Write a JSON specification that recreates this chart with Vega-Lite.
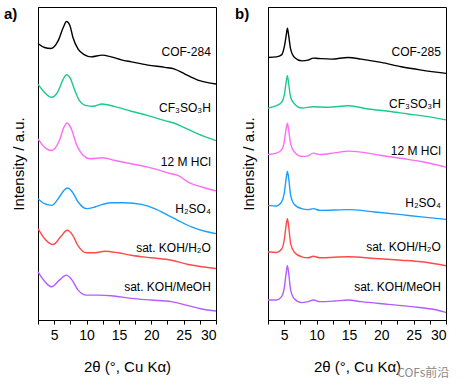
{
  "$schema": "https://vega.github.io/schema/vega-lite/v6.json",
  "background": "white",
  "padding": {"left": 3, "top": 6, "right": 5, "bottom": 3},
  "spacing": 14,
  "config": {
    "font": "Liberation Sans",
    "view": {"stroke": "black", "strokeWidth": 1},
    "axis": {"grid": false, "labelFontSize": 14, "titleFontSize": 15, "titleFontWeight": "normal", "labelColor": "black", "titleColor": "black", "domainColor": "black", "tickColor": "black"}
  },
  "title": {"text": "COFs前沿", "orient": "bottom", "anchor": "end", "font": "Noto Sans CJK SC", "fontSize": 12, "color": "#8a8a8a", "fontWeight": "normal", "offset": -7},
  "datasets": {
    "a_curves": [
      {"series": "pristine", "x": 2.5, "y": 277.4}, {"series": "pristine", "x": 3.5, "y": 273.4}, {"series": "pristine", "x": 4.5, "y": 272.4}, {"series": "pristine", "x": 5.6, "y": 280}, {"series": "pristine", "x": 6.4, "y": 293.4}, {"series": "pristine", "x": 6.9, "y": 299.4}, {"series": "pristine", "x": 7.4, "y": 296}, {"series": "pristine", "x": 7.9, "y": 283.4}, {"series": "pristine", "x": 8.7, "y": 271.7}, {"series": "pristine", "x": 9.7, "y": 266}, {"series": "pristine", "x": 10.7, "y": 264}, {"series": "pristine", "x": 12.4, "y": 265.7}, {"series": "pristine", "x": 13.8, "y": 264}, {"series": "pristine", "x": 15.4, "y": 261}, {"series": "pristine", "x": 16.9, "y": 259}, {"series": "pristine", "x": 19.5, "y": 255.7}, {"series": "pristine", "x": 22.1, "y": 253.4}, {"series": "pristine", "x": 23.6, "y": 251.7}, {"series": "pristine", "x": 25.2, "y": 246.7}, {"series": "pristine", "x": 27.2, "y": 240.7}, {"series": "pristine", "x": 30, "y": 236.7},
      {"series": "CF3SO3H", "x": 2.5, "y": 236.7}, {"series": "CF3SO3H", "x": 3.5, "y": 228.4}, {"series": "CF3SO3H", "x": 4.6, "y": 223.4}, {"series": "CF3SO3H", "x": 5.6, "y": 229.4}, {"series": "CF3SO3H", "x": 6.4, "y": 241.7}, {"series": "CF3SO3H", "x": 6.9, "y": 246}, {"series": "CF3SO3H", "x": 7.55, "y": 241.7}, {"series": "CF3SO3H", "x": 8.2, "y": 230}, {"series": "CF3SO3H", "x": 8.9, "y": 220}, {"series": "CF3SO3H", "x": 10, "y": 215}, {"series": "CF3SO3H", "x": 11, "y": 214.4}, {"series": "CF3SO3H", "x": 12.4, "y": 216.7}, {"series": "CF3SO3H", "x": 14.4, "y": 214}, {"series": "CF3SO3H", "x": 16.9, "y": 209.4}, {"series": "CF3SO3H", "x": 19.5, "y": 205}, {"series": "CF3SO3H", "x": 22.1, "y": 200}, {"series": "CF3SO3H", "x": 23.6, "y": 197.4}, {"series": "CF3SO3H", "x": 25.2, "y": 192.7}, {"series": "CF3SO3H", "x": 27.2, "y": 186.7}, {"series": "CF3SO3H", "x": 30, "y": 180},
      {"series": "HCl", "x": 2.5, "y": 181.7}, {"series": "HCl", "x": 3.5, "y": 173.4}, {"series": "HCl", "x": 4.6, "y": 170}, {"series": "HCl", "x": 5.8, "y": 180}, {"series": "HCl", "x": 6.5, "y": 193.4}, {"series": "HCl", "x": 7.0, "y": 197.7}, {"series": "HCl", "x": 7.65, "y": 191.7}, {"series": "HCl", "x": 8.4, "y": 176.7}, {"series": "HCl", "x": 9.5, "y": 165}, {"series": "HCl", "x": 10.5, "y": 161.7}, {"series": "HCl", "x": 12.5, "y": 162.7}, {"series": "HCl", "x": 14.4, "y": 160}, {"series": "HCl", "x": 16.9, "y": 156.7}, {"series": "HCl", "x": 19.5, "y": 153.4}, {"series": "HCl", "x": 23.1, "y": 146.7}, {"series": "HCl", "x": 24.1, "y": 145}, {"series": "HCl", "x": 25.7, "y": 138.4}, {"series": "HCl", "x": 27.8, "y": 133.4}, {"series": "HCl", "x": 30, "y": 129.4},
      {"series": "H2SO4", "x": 2.5, "y": 121.7}, {"series": "H2SO4", "x": 3.5, "y": 116.7}, {"series": "H2SO4", "x": 4.6, "y": 115}, {"series": "H2SO4", "x": 5.8, "y": 123.4}, {"series": "H2SO4", "x": 6.6, "y": 130.7}, {"series": "H2SO4", "x": 7.1, "y": 132.4}, {"series": "H2SO4", "x": 7.8, "y": 128.4}, {"series": "H2SO4", "x": 8.7, "y": 118.4}, {"series": "H2SO4", "x": 10, "y": 111.7}, {"series": "H2SO4", "x": 11.3, "y": 113.4}, {"series": "H2SO4", "x": 12.5, "y": 116}, {"series": "H2SO4", "x": 13.8, "y": 117.7}, {"series": "H2SO4", "x": 15.9, "y": 117.7}, {"series": "H2SO4", "x": 18.5, "y": 116}, {"series": "H2SO4", "x": 20.5, "y": 111.7}, {"series": "H2SO4", "x": 22.6, "y": 105}, {"series": "H2SO4", "x": 24.1, "y": 100}, {"series": "H2SO4", "x": 26.2, "y": 93.4}, {"series": "H2SO4", "x": 28.3, "y": 89}, {"series": "H2SO4", "x": 30, "y": 86.7},
      {"series": "KOH_H2O", "x": 2.5, "y": 91.7}, {"series": "KOH_H2O", "x": 3.5, "y": 81.7}, {"series": "KOH_H2O", "x": 4.8, "y": 75.7}, {"series": "KOH_H2O", "x": 6.0, "y": 83.4}, {"series": "KOH_H2O", "x": 7.0, "y": 90}, {"series": "KOH_H2O", "x": 7.8, "y": 85.7}, {"series": "KOH_H2O", "x": 8.7, "y": 74.4}, {"series": "KOH_H2O", "x": 10, "y": 67.4}, {"series": "KOH_H2O", "x": 11.3, "y": 67.4}, {"series": "KOH_H2O", "x": 12.8, "y": 69}, {"series": "KOH_H2O", "x": 14.9, "y": 67.4}, {"series": "KOH_H2O", "x": 16.9, "y": 65}, {"series": "KOH_H2O", "x": 20, "y": 62.4}, {"series": "KOH_H2O", "x": 23.1, "y": 60}, {"series": "KOH_H2O", "x": 25.7, "y": 55.7}, {"series": "KOH_H2O", "x": 27.8, "y": 53.4}, {"series": "KOH_H2O", "x": 30, "y": 51.7},
      {"series": "KOH_MeOH", "x": 2.5, "y": 48.4}, {"series": "KOH_MeOH", "x": 3.5, "y": 39}, {"series": "KOH_MeOH", "x": 4.6, "y": 33.4}, {"series": "KOH_MeOH", "x": 5.8, "y": 40}, {"series": "KOH_MeOH", "x": 6.9, "y": 45}, {"series": "KOH_MeOH", "x": 7.65, "y": 41}, {"series": "KOH_MeOH", "x": 8.7, "y": 30}, {"series": "KOH_MeOH", "x": 10, "y": 25}, {"series": "KOH_MeOH", "x": 11.8, "y": 25}, {"series": "KOH_MeOH", "x": 13.8, "y": 24.4}, {"series": "KOH_MeOH", "x": 16.9, "y": 21.7}, {"series": "KOH_MeOH", "x": 20, "y": 20}, {"series": "KOH_MeOH", "x": 23.1, "y": 18.4}, {"series": "KOH_MeOH", "x": 25.7, "y": 14.4}, {"series": "KOH_MeOH", "x": 27.8, "y": 11}, {"series": "KOH_MeOH", "x": 30, "y": 9}
    ],
    "a_labels": [
      {"label": "COF-284", "x": 29.2, "y": 268.7},
      {"label": "CF₃SO₃H", "x": 29.2, "y": 212.7},
      {"label": "12 M HCl", "x": 29.2, "y": 158.7},
      {"label": "H₂SO₄", "x": 29.2, "y": 111.7},
      {"label": "sat. KOH/H₂O", "x": 29.2, "y": 72.4},
      {"label": "sat. KOH/MeOH", "x": 29.2, "y": 33.4}
    ],
    "b_curves": [
      {"series": "pristine", "x": 2.5, "y": 263.4}, {"series": "pristine", "x": 3.8, "y": 264}, {"series": "pristine", "x": 4.6, "y": 266}, {"series": "pristine", "x": 5.0, "y": 273.4}, {"series": "pristine", "x": 5.3, "y": 285}, {"series": "pristine", "x": 5.5, "y": 292.7}, {"series": "pristine", "x": 5.7, "y": 285}, {"series": "pristine", "x": 6.0, "y": 271.7}, {"series": "pristine", "x": 6.6, "y": 263.4}, {"series": "pristine", "x": 7.7, "y": 260}, {"series": "pristine", "x": 8.7, "y": 260.7}, {"series": "pristine", "x": 9.5, "y": 262.7}, {"series": "pristine", "x": 10.2, "y": 262.4}, {"series": "pristine", "x": 12.3, "y": 261.7}, {"series": "pristine", "x": 14.9, "y": 263.4}, {"series": "pristine", "x": 16.9, "y": 261.7}, {"series": "pristine", "x": 20, "y": 258.4}, {"series": "pristine", "x": 23.1, "y": 254}, {"series": "pristine", "x": 26.2, "y": 250.7}, {"series": "pristine", "x": 30, "y": 247.4},
      {"series": "CF3SO3H", "x": 2.5, "y": 212.7}, {"series": "CF3SO3H", "x": 3.8, "y": 215}, {"series": "CF3SO3H", "x": 4.6, "y": 218.4}, {"series": "CF3SO3H", "x": 5.0, "y": 225}, {"series": "CF3SO3H", "x": 5.3, "y": 238.4}, {"series": "CF3SO3H", "x": 5.5, "y": 245}, {"series": "CF3SO3H", "x": 5.7, "y": 236.7}, {"series": "CF3SO3H", "x": 6.0, "y": 223.4}, {"series": "CF3SO3H", "x": 6.6, "y": 216.7}, {"series": "CF3SO3H", "x": 7.7, "y": 212.7}, {"series": "CF3SO3H", "x": 9.5, "y": 214}, {"series": "CF3SO3H", "x": 11.8, "y": 213.4}, {"series": "CF3SO3H", "x": 14.9, "y": 215}, {"series": "CF3SO3H", "x": 18, "y": 211.7}, {"series": "CF3SO3H", "x": 21.1, "y": 209.4}, {"series": "CF3SO3H", "x": 24.1, "y": 206.7}, {"series": "CF3SO3H", "x": 27.2, "y": 204}, {"series": "CF3SO3H", "x": 30, "y": 200.7},
      {"series": "HCl", "x": 2.5, "y": 166}, {"series": "HCl", "x": 3.8, "y": 167.4}, {"series": "HCl", "x": 4.6, "y": 170.7}, {"series": "HCl", "x": 5.0, "y": 178.4}, {"series": "HCl", "x": 5.3, "y": 191.7}, {"series": "HCl", "x": 5.5, "y": 197.4}, {"series": "HCl", "x": 5.7, "y": 190}, {"series": "HCl", "x": 6.0, "y": 176.7}, {"series": "HCl", "x": 6.6, "y": 168.4}, {"series": "HCl", "x": 7.7, "y": 164}, {"series": "HCl", "x": 8.7, "y": 164.7}, {"series": "HCl", "x": 9.5, "y": 167.4}, {"series": "HCl", "x": 10.5, "y": 166}, {"series": "HCl", "x": 12.8, "y": 167.7}, {"series": "HCl", "x": 14.9, "y": 169.4}, {"series": "HCl", "x": 16.9, "y": 168.4}, {"series": "HCl", "x": 20, "y": 165}, {"series": "HCl", "x": 23.6, "y": 161.7}, {"series": "HCl", "x": 26.2, "y": 159}, {"series": "HCl", "x": 30, "y": 153.4},
      {"series": "H2SO4", "x": 2.5, "y": 115}, {"series": "H2SO4", "x": 3.8, "y": 114.4}, {"series": "H2SO4", "x": 4.6, "y": 118.4}, {"series": "H2SO4", "x": 5.0, "y": 126.7}, {"series": "H2SO4", "x": 5.3, "y": 141.7}, {"series": "H2SO4", "x": 5.5, "y": 149}, {"series": "H2SO4", "x": 5.7, "y": 141.7}, {"series": "H2SO4", "x": 6.0, "y": 125}, {"series": "H2SO4", "x": 6.6, "y": 115.7}, {"series": "H2SO4", "x": 7.7, "y": 111.7}, {"series": "H2SO4", "x": 8.7, "y": 110.7}, {"series": "H2SO4", "x": 9.5, "y": 111.7}, {"series": "H2SO4", "x": 10.5, "y": 110}, {"series": "H2SO4", "x": 14.9, "y": 110.7}, {"series": "H2SO4", "x": 19, "y": 108.4}, {"series": "H2SO4", "x": 23.1, "y": 105.7}, {"series": "H2SO4", "x": 26.2, "y": 103.4}, {"series": "H2SO4", "x": 30, "y": 101},
      {"series": "KOH_H2O", "x": 2.5, "y": 68.4}, {"series": "KOH_H2O", "x": 3.8, "y": 67.7}, {"series": "KOH_H2O", "x": 4.6, "y": 71}, {"series": "KOH_H2O", "x": 5.0, "y": 80}, {"series": "KOH_H2O", "x": 5.3, "y": 95}, {"series": "KOH_H2O", "x": 5.5, "y": 101.7}, {"series": "KOH_H2O", "x": 5.7, "y": 93.4}, {"series": "KOH_H2O", "x": 6.0, "y": 76.7}, {"series": "KOH_H2O", "x": 6.6, "y": 67.7}, {"series": "KOH_H2O", "x": 7.7, "y": 63.4}, {"series": "KOH_H2O", "x": 8.7, "y": 62.4}, {"series": "KOH_H2O", "x": 9.5, "y": 64}, {"series": "KOH_H2O", "x": 10.5, "y": 62.4}, {"series": "KOH_H2O", "x": 14.9, "y": 63.4}, {"series": "KOH_H2O", "x": 19, "y": 61.7}, {"series": "KOH_H2O", "x": 23.1, "y": 60}, {"series": "KOH_H2O", "x": 26.2, "y": 58.4}, {"series": "KOH_H2O", "x": 30, "y": 54.4},
      {"series": "KOH_MeOH", "x": 2.5, "y": 20}, {"series": "KOH_MeOH", "x": 3.8, "y": 20}, {"series": "KOH_MeOH", "x": 4.6, "y": 23.4}, {"series": "KOH_MeOH", "x": 5.0, "y": 31.7}, {"series": "KOH_MeOH", "x": 5.3, "y": 46.7}, {"series": "KOH_MeOH", "x": 5.5, "y": 54.4}, {"series": "KOH_MeOH", "x": 5.7, "y": 46.7}, {"series": "KOH_MeOH", "x": 6.0, "y": 30}, {"series": "KOH_MeOH", "x": 6.6, "y": 21}, {"series": "KOH_MeOH", "x": 7.7, "y": 17.4}, {"series": "KOH_MeOH", "x": 8.7, "y": 18.4}, {"series": "KOH_MeOH", "x": 9.5, "y": 20}, {"series": "KOH_MeOH", "x": 10.5, "y": 18.4}, {"series": "KOH_MeOH", "x": 12.8, "y": 19}, {"series": "KOH_MeOH", "x": 14.9, "y": 20}, {"series": "KOH_MeOH", "x": 16.9, "y": 18.4}, {"series": "KOH_MeOH", "x": 21.1, "y": 15.7}, {"series": "KOH_MeOH", "x": 24.7, "y": 13.4}, {"series": "KOH_MeOH", "x": 27.8, "y": 11}, {"series": "KOH_MeOH", "x": 30, "y": 7.7}
    ],
    "b_labels": [
      {"label": "COF-285", "x": 29.2, "y": 269},
      {"label": "CF₃SO₃H", "x": 29.2, "y": 216.7},
      {"label": "12 M HCl", "x": 29.2, "y": 170},
      {"label": "H₂SO₄", "x": 29.2, "y": 117.7},
      {"label": "sat. KOH/H₂O", "x": 29.2, "y": 73.4},
      {"label": "sat. KOH/MeOH", "x": 29.2, "y": 33.4}
    ]
  },
  "hconcat": [
    {
      "width": 178,
      "height": 313,
      "title": {"text": "a)", "anchor": "start", "frame": "group", "dx": -34, "offset": -15, "fontSize": 15, "fontWeight": "bold", "color": "black"},
      "resolve": {"axis": {"x": "independent"}},
      "layer": [
        {
          "data": {"name": "a_curves"},
          "mark": {"type": "line", "strokeWidth": 1.4, "interpolate": "monotone"},
          "encoding": {
            "x": {"field": "x", "type": "quantitative", "scale": {"domain": [2.5, 30], "nice": false}, "axis": {"orient": "bottom", "values": [2.5, 5, 7.5, 10, 12.5, 15, 17.5, 20, 22.5, 25, 27.5, 30], "labels": false, "tickSize": 4, "title": null}},
            "y": {"field": "y", "type": "quantitative", "scale": {"domain": [0, 314], "nice": false}, "axis": {"labels": false, "ticks": false, "title": "Intensity / a.u.", "titlePadding": 12}},
            "color": {"field": "series", "type": "nominal", "scale": {"domain": ["pristine", "CF3SO3H", "HCl", "H2SO4", "KOH_H2O", "KOH_MeOH"], "range": ["#000000", "#1ec98a", "#ff6cf5", "#1a9fff", "#ff4a4a", "#b45cff"]}, "legend": null}
          }
        },
        {
          "data": {"name": "a_labels"},
          "mark": {"type": "text", "align": "right", "baseline": "middle", "fontSize": 12, "color": "black"},
          "encoding": {
            "x": {"field": "x", "type": "quantitative", "axis": {"orient": "bottom", "values": [5, 10, 15, 20, 25, 30], "ticks": false, "domain": false, "labelPadding": 8, "title": "2θ (°, Cu Kα)", "titlePadding": 17}},
            "y": {"field": "y", "type": "quantitative"},
            "text": {"field": "label"}
          }
        }
      ]
    },
    {
      "width": 178,
      "height": 313,
      "title": {"text": "b)", "anchor": "start", "frame": "group", "dx": -33, "offset": -15, "fontSize": 15, "fontWeight": "bold", "color": "black"},
      "resolve": {"axis": {"x": "independent"}},
      "layer": [
        {
          "data": {"name": "b_curves"},
          "mark": {"type": "line", "strokeWidth": 1.4, "interpolate": "monotone"},
          "encoding": {
            "x": {"field": "x", "type": "quantitative", "scale": {"domain": [2.5, 30], "nice": false}, "axis": {"orient": "bottom", "values": [2.5, 5, 7.5, 10, 12.5, 15, 17.5, 20, 22.5, 25, 27.5, 30], "labels": false, "tickSize": 4, "title": null}},
            "y": {"field": "y", "type": "quantitative", "scale": {"domain": [0, 314], "nice": false}, "axis": {"labels": false, "ticks": false, "title": "Intensity / a.u.", "titlePadding": 12}},
            "color": {"field": "series", "type": "nominal", "scale": {"domain": ["pristine", "CF3SO3H", "HCl", "H2SO4", "KOH_H2O", "KOH_MeOH"], "range": ["#000000", "#1ec98a", "#ff6cf5", "#1a9fff", "#ff4a4a", "#b45cff"]}, "legend": null}
          }
        },
        {
          "data": {"name": "b_labels"},
          "mark": {"type": "text", "align": "right", "baseline": "middle", "fontSize": 12, "color": "black"},
          "encoding": {
            "x": {"field": "x", "type": "quantitative", "axis": {"orient": "bottom", "values": [5, 10, 15, 20, 25, 30], "ticks": false, "domain": false, "labelPadding": 8, "title": "2θ (°, Cu Kα)", "titlePadding": 17}},
            "y": {"field": "y", "type": "quantitative"},
            "text": {"field": "label"}
          }
        }
      ]
    }
  ]
}
